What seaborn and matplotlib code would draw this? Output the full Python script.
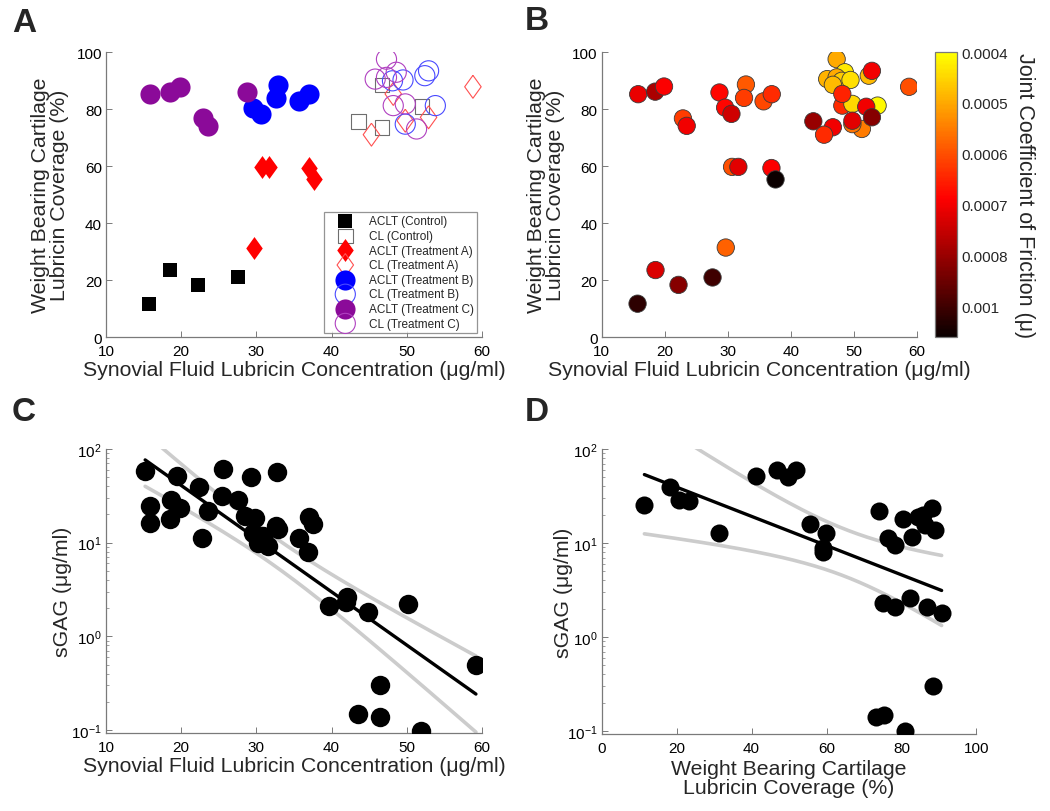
import numpy as np
import pandas as pd
import matplotlib
matplotlib.use("Agg")
import matplotlib.pyplot as plt
import seaborn as sns
from matplotlib.colors import ListedColormap, Normalize
from matplotlib.cm import ScalarMappable

# ---------------- Panel A / B data ----------------
aclt_ctrl_x = [15.7, 18.55, 22.2, 27.6]
aclt_ctrl_y = [11.7, 23.5, 18.3, 20.9]
aclt_ctrl_mu = [0.00092, 0.00073, 0.00082, 0.00090]

cl_ctrl_x = [46.7, 43.6, 46.7, 52.0]
cl_ctrl_y = [88.5, 75.7, 73.6, 80.8]
cl_ctrl_mu = [0.00048, 0.00080, 0.00070, 0.00070]

aclt_a_x = [30.7, 31.7, 36.95, 37.6, 29.7]
aclt_a_y = [59.7, 59.7, 59.3, 55.3, 31.4]
aclt_a_mu = [0.00060, 0.00072, 0.00069, 0.00096, 0.00058]

cl_a_x = [58.8, 48.2, 49.8, 52.9, 45.3]
cl_a_y = [87.8, 85.3, 75.9, 77.1, 71.0]
cl_a_mu = [0.00060, 0.00065, 0.00072, 0.00082, 0.00064]

aclt_b_x = [29.6, 30.6, 32.9, 32.6, 35.7, 37.0]
aclt_b_y = [80.5, 78.3, 88.6, 83.9, 82.7, 85.2]
aclt_b_mu = [0.00068, 0.00074, 0.00059, 0.00062, 0.00061, 0.00064]

cl_b_x = [48.1, 49.5, 52.4, 52.9, 53.8, 49.8]
cl_b_y = [89.9, 90.2, 91.7, 93.4, 81.2, 74.7]
cl_b_mu = [0.00046, 0.00044, 0.00048, 0.00070, 0.00041, 0.00056]

aclt_c_x = [15.8, 18.5, 19.9, 22.9, 23.5, 28.7]
aclt_c_y = [85.2, 86.1, 87.9, 76.7, 74.1, 85.8]
aclt_c_mu = [0.00071, 0.00078, 0.00069, 0.00062, 0.00070, 0.00068]

cl_c_x = [47.3, 45.8, 48.6, 47.3, 48.2, 49.8, 51.3]
cl_c_y = [97.5, 90.5, 92.9, 91.1, 81.2, 81.8, 73.0]
cl_c_mu = [0.00050, 0.00049, 0.00043, 0.00050, 0.00064, 0.00045, 0.00055]

# ---------------- Panel C data ----------------
c_x = [15.2, 15.8, 15.8, 19.5, 18.6, 18.5, 19.8, 22.3, 23.5, 22.8, 25.5, 25.4,
       27.6, 29.3, 28.5, 29.8, 29.6, 30.2, 31.6, 30.9, 32.7, 32.6, 32.9, 35.7,
       37.0, 37.5, 36.9, 39.6, 42.0, 41.9, 44.8, 50.2, 59.2, 46.5, 43.5, 46.5, 51.9]
c_y = [58.6, 24.7, 16.0, 51.8, 28.7, 17.8, 23.7, 38.8, 21.8, 11.3, 61.1, 31.6,
       28.7, 49.7, 19.3, 18.1, 12.8, 10.0, 9.1, 11.8, 56.2, 15.1, 13.9, 11.3,
       19.0, 15.7, 7.9, 2.1, 2.6, 2.3, 1.8, 2.2, 0.49, 0.30, 0.148, 0.139, 0.098]

# ---------------- Panel D data ----------------
d_x = [11.4, 18.2, 20.7, 23.4, 31.4, 41.1, 46.8, 49.6, 51.8, 55.6, 59.8, 59.1,
       59.1, 74.0, 76.3, 78.2, 80.4, 82.7, 84.4, 85.8, 88.0, 88.9, 86.2, 75.1,
       78.2, 82.2, 86.7, 90.7, 88.4, 73.2, 75.3, 80.8]
d_y = [25.4, 39.5, 28.6, 27.9, 12.7, 51.5, 59.1, 50.4, 60.5, 15.8, 12.7, 8.9,
       8.0, 21.9, 11.3, 9.6, 18.0, 11.7, 19.0, 19.9, 23.3, 13.8, 15.5, 2.3,
       2.1, 2.6, 2.1, 1.8, 0.30, 0.14, 0.15, 0.10]

cbar_ticks = [0.0004, 0.0005, 0.0006, 0.0007, 0.0008, 0.0009]
cbar_labels = ["0.0004", "0.0005", "0.0006", "0.0007", "0.0008", "0.001"]
mu_min, mu_max = 0.0004, 0.00096

# ---------------- style ----------------
sns.set_style("ticks")
plt.rcParams['font.family'] = ['Liberation Sans', 'DejaVu Sans']
plt.rcParams['mathtext.fontset'] = 'custom'
plt.rcParams['mathtext.rm'] = 'Liberation Sans'
plt.rcParams['mathtext.it'] = 'Liberation Sans'
SPINE = '#7a7a7a'
TICK = 11
LAB = 15.3

fig = plt.figure(figsize=(10.5, 8.12), dpi=100)
axA = fig.add_axes([0.101, 0.5837, 0.358, 0.351])
axB = fig.add_axes([0.573, 0.5837, 0.300, 0.351])
cax = fig.add_axes([0.8905, 0.5837, 0.0207, 0.351])
axC = fig.add_axes([0.101, 0.0961, 0.358, 0.3498])
axD = fig.add_axes([0.573, 0.0948, 0.357, 0.351])


def style_axes(ax):
    for s in ['top', 'right']:
        ax.spines[s].set_visible(False)
    for s in ['left', 'bottom']:
        ax.spines[s].set_color(SPINE)
        ax.spines[s].set_linewidth(0.9)
    ax.tick_params(axis='both', which='major', direction='in', length=4,
                   width=0.7, color=SPINE, labelsize=TICK, labelcolor='black')
    ax.tick_params(axis='x', which='major', pad=5)
    ax.tick_params(axis='y', which='major', pad=3)
    ax.tick_params(axis='both', which='minor', direction='in', length=2,
                   width=0.5, color=SPINE)


# tall MATLAB-like diamond
diamond = [(0, 1), (0.72, 0), (0, -1), (-0.72, 0), (0, 1)]

# ---------------- Panel A ----------------
groupsA = [
    (aclt_ctrl_x, aclt_ctrl_y, 's', 'black', True, 'ACLT (Control)', 10.5),
    (cl_ctrl_x, cl_ctrl_y, 's', '#6e6e6e', False, 'CL (Control)', 10.5),
    (aclt_a_x, aclt_a_y, diamond, 'red', True, 'ACLT (Treatment A)', 16.5),
    (cl_a_x, cl_a_y, diamond, '#ff5050', False, 'CL (Treatment A)', 16.5),
    (aclt_b_x, aclt_b_y, 'o', 'blue', True, 'ACLT (Treatment B)', 14.5),
    (cl_b_x, cl_b_y, 'o', '#4a4aff', False, 'CL (Treatment B)', 14.5),
    (aclt_c_x, aclt_c_y, 'o', '#8b0a99', True, 'ACLT (Treatment C)', 14.5),
    (cl_c_x, cl_c_y, 'o', '#b040c0', False, 'CL (Treatment C)', 14.5),
]
handles = []
for gx, gy, mk, col, filled, lab, ms in groupsA:
    n_before = len(axA.collections)
    sns.scatterplot(x=gx, y=gy, ax=axA, marker=mk, s=ms ** 2, color=col,
                    edgecolor=col, linewidth=0.8, legend=False, zorder=3)
    coll = axA.collections[n_before]
    if not filled:
        coll.set_facecolor('none')
        coll.set_edgecolor(col)
        coll.set_linewidth(0.8)
    else:
        coll.set_linewidth(0)
    coll.set_label(lab)
    handles.append(coll)

axA.set_xlim(10, 60)
axA.set_ylim(0, 100)
axA.set_xticks([10, 20, 30, 40, 50, 60])
axA.set_yticks([0, 20, 40, 60, 80, 100])
style_axes(axA)
leg = axA.legend(handles=handles, loc='lower right', bbox_to_anchor=(0.988, 0.014),
                 fontsize=8.5, frameon=True, fancybox=False, labelspacing=0.22,
                 handletextpad=0.5, borderpad=0.3, scatterpoints=1,
                 handlelength=3.0, borderaxespad=0)
leg.get_frame().set_edgecolor(SPINE)
leg.get_frame().set_linewidth(0.9)

# ---------------- Panel B ----------------
base = plt.cm.hot(np.linspace(0.0, 0.75, 256))
cmap = ListedColormap(base[::-1])  # yellow at low mu, black at high mu
order = [
    (aclt_ctrl_x, aclt_ctrl_y, aclt_ctrl_mu),
    (aclt_c_x, aclt_c_y, aclt_c_mu),
    (aclt_b_x, aclt_b_y, aclt_b_mu),
    (aclt_a_x, aclt_a_y, aclt_a_mu),
    (cl_c_x, cl_c_y, cl_c_mu),
    (cl_b_x, cl_b_y, cl_b_mu),
    (cl_ctrl_x, cl_ctrl_y, cl_ctrl_mu),
    (cl_a_x, cl_a_y, cl_a_mu),
]
dfB = pd.DataFrame({
    'x': np.concatenate([o[0] for o in order]),
    'y': np.concatenate([o[1] for o in order]),
    'mu': np.concatenate([o[2] for o in order]),
})
sns.scatterplot(data=dfB, x='x', y='y', hue='mu', palette=cmap,
                hue_norm=(mu_min, mu_max), s=12.5 ** 2, edgecolor='#3a3a3a',
                linewidth=0.6, legend=False, ax=axB, zorder=3)
axB.set_xlim(10, 60)
axB.set_ylim(0, 100)
axB.set_xticks([10, 20, 30, 40, 50, 60])
axB.set_yticks([0, 20, 40, 60, 80, 100])
style_axes(axB)

sm = ScalarMappable(norm=Normalize(mu_min, mu_max), cmap=cmap)
cb = fig.colorbar(sm, cax=cax)
cax.invert_yaxis()
cb.set_ticks(cbar_ticks)
cb.set_ticklabels(cbar_labels)
cb.outline.set_edgecolor(SPINE)
cb.outline.set_linewidth(0.9)
cax.tick_params(axis='y', which='major', direction='in', left=True, right=True,
                length=3, width=0.6, color=SPINE, labelsize=TICK, pad=3)
cax.tick_params(axis='y', which='minor', length=0)
cb.set_label('Joint Coefficient of Friction (μ)', rotation=270, fontsize=15.5,
             labelpad=20)


# ---------------- regression helper ----------------
def log_fit(x, y, t=2.03):
    x = np.asarray(x, float)
    ly = np.log10(np.asarray(y, float))
    b, a = np.polyfit(x, ly, 1)
    xs = np.linspace(x.min(), x.max(), 200)
    yh = a + b * xs
    res = ly - (a + b * x)
    n = len(x)
    s = np.sqrt(np.sum(res ** 2) / (n - 2))
    sxx = np.sum((x - x.mean()) ** 2)
    se = s * np.sqrt(1.0 / n + (xs - x.mean()) ** 2 / sxx)
    return xs, 10 ** yh, 10 ** (yh + t * se), 10 ** (yh - t * se)


def panel_reg(ax, x, y, t, ms):
    xs, yh, up, lo = log_fit(x, y, t)
    ax.set_yscale('log')
    sns.lineplot(x=xs, y=up, ax=ax, color='#cccccc', linewidth=2.6, zorder=1)
    sns.lineplot(x=xs, y=lo, ax=ax, color='#cccccc', linewidth=2.6, zorder=1)
    sns.lineplot(x=xs, y=yh, ax=ax, color='black', linewidth=2.4, zorder=2)
    sns.scatterplot(x=x, y=y, ax=ax, s=ms ** 2, color='black', edgecolor='black',
                    linewidth=0, zorder=3, legend=False)
    ax.set_ylim(0.093, 100)
    ax.set_yticks([0.1, 1, 10, 100])


panel_reg(axC, c_x, c_y, 2.03, 14.0)
axC.set_xlim(10, 60)
axC.set_xticks([10, 20, 30, 40, 50, 60])
style_axes(axC)

panel_reg(axD, d_x, d_y, 2.04, 13.0)
axD.set_xlim(0, 100)
axD.set_xticks([0, 20, 40, 60, 80, 100])
style_axes(axD)

# ---------------- labels ----------------
axA.set_xlabel('Synovial Fluid Lubricin Concentration (μg/ml)', fontsize=LAB)
axA.xaxis.set_label_coords(0.5, -0.08)
axA.set_ylabel('Weight Bearing Cartilage\nLubricin Coverage (%)', fontsize=LAB,
               linespacing=1.0)
axA.yaxis.set_label_coords(-0.098, 0.5)

axB.set_xlabel('Synovial Fluid Lubricin Concentration (μg/ml)', fontsize=LAB)
axB.xaxis.set_label_coords(0.5, -0.08)
axB.set_ylabel('Weight Bearing Cartilage\nLubricin Coverage (%)', fontsize=LAB,
               linespacing=1.0)
axB.yaxis.set_label_coords(-0.117, 0.5)

axC.set_xlabel('Synovial Fluid Lubricin Concentration (μg/ml)', fontsize=LAB)
axC.xaxis.set_label_coords(0.5, -0.08)
axC.set_ylabel('sGAG (μg/ml)', fontsize=LAB)
axC.yaxis.set_label_coords(-0.09, 0.5)

axD.set_xlabel('Weight Bearing Cartilage\nLubricin Coverage (%)', fontsize=LAB,
               linespacing=1.0)
axD.xaxis.set_label_coords(0.5, -0.088)
axD.set_ylabel('sGAG (μg/ml)', fontsize=LAB)
axD.yaxis.set_label_coords(-0.077, 0.5)

for letter, (px, py) in zip('ABCD', [(24, 24), (537, 22), (24, 413), (537, 413)]):
    fig.text(px / 1050, 1 - py / 812, letter, fontsize=24, fontweight='bold',
             ha='center', va='center')

fig.savefig('out.png', dpi=100)
